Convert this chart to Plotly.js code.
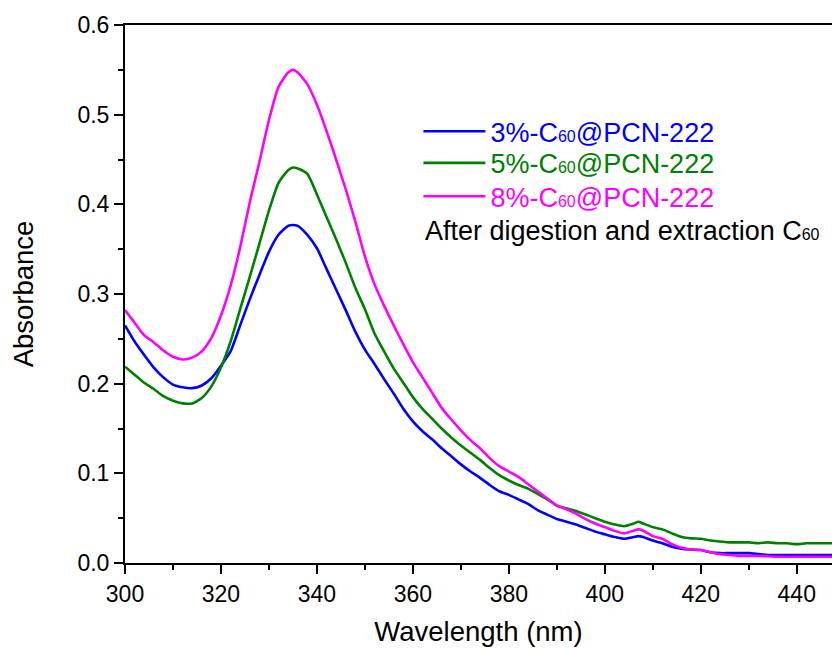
<!DOCTYPE html>
<html>
<head>
<meta charset="utf-8">
<script src="https://cdn.plot.ly/plotly-3.0.1.min.js"></script>
<style>html,body{margin:0;padding:0;background:#fff;}#chart{width:832px;height:648px;}</style>
</head>
<body>
<div id="chart"></div>
<script>
var wavelength = [300,302,304,306,308,310,312,314,316,318,320,322,324,326,328,330,332,334,335,336,
  338,340,342,344,346,348,350,352,354,356,358,360,362,364,366,368,370,372,374,376,378,380,382,384,386,388,390,392,394,396,398,400,402,404,406,
  407,408,
  410,412,414,416,418,420,422,424,426,428,430,432,434,436,438,440,442,444,446,448];

var abs3 = [0.265,0.247,0.232,0.218,0.207,0.199,0.196,0.195,0.198,0.206,0.220,0.236,0.265,0.294,0.321,0.347,0.366,0.376,0.377,0.376,
  0.366,0.351,0.328,0.305,0.282,0.258,0.238,0.222,0.205,0.189,0.172,0.158,0.147,0.138,0.128,0.119,0.110,0.102,0.095,0.087,0.080,0.076,0.071,0.066,0.059,0.054,0.049,0.046,0.043,0.039,0.035,0.032,0.029,0.027,0.029,
  0.030,0.029,
  0.025,0.022,0.018,0.016,0.015,0.0145,0.012,0.011,0.011,0.011,0.011,0.010,0.009,0.009,0.009,0.009,0.009,0.009,0.009,0.009];

var abs5 = [0.219,0.210,0.201,0.194,0.186,0.181,0.178,0.178,0.184,0.197,0.218,0.247,0.283,0.319,0.356,0.393,0.424,0.438,0.441,0.440,
  0.434,0.411,0.386,0.361,0.335,0.307,0.283,0.256,0.236,0.217,0.201,0.185,0.172,0.161,0.150,0.140,0.131,0.123,0.115,0.106,0.098,0.092,0.087,0.083,0.077,0.071,0.064,0.061,0.058,0.054,0.050,0.046,0.043,0.041,0.044,
  0.046,0.044,
  0.040,0.0375,0.033,0.029,0.0275,0.027,0.025,0.024,0.023,0.023,0.023,0.022,0.023,0.022,0.022,0.021,0.022,0.022,0.022,0.022];

var abs8 = [0.282,0.268,0.254,0.246,0.237,0.230,0.227,0.229,0.236,0.251,0.276,0.309,0.352,0.402,0.447,0.494,0.531,0.547,0.550,0.547,
  0.534,0.511,0.482,0.450,0.417,0.381,0.342,0.311,0.287,0.265,0.244,0.224,0.207,0.190,0.173,0.160,0.148,0.137,0.128,0.117,0.108,0.102,0.096,0.088,0.080,0.072,0.064,0.060,0.055,0.049,0.044,0.040,0.036,0.033,0.036,
  0.0375,0.036,
  0.030,0.027,0.021,0.017,0.015,0.0145,0.012,0.0097,0.009,0.008,0.008,0.0078,0.0075,0.007,0.007,0.007,0.007,0.007,0.007,0.007];

var seriesNames = ['3%-C<span style="font-size:16px">60</span>@PCN-222',
                   '5%-C<span style="font-size:16px">60</span>@PCN-222',
                   '8%-C<span style="font-size:16px">60</span>@PCN-222'];
var seriesColors = ['#0000ff','#008000','#ff00ff'];
var seriesValues = [abs3, abs5, abs8];
var noteText = 'After digestion and extraction C<span style="font-size:16px">60</span>';

var FONT = 'Liberation Sans, Arial, sans-serif';
var legendIds = ['legend','legend2','legend3'];
var legendY = [0.8017, 0.7429, 0.6809];

var traces = seriesValues.map(function(v, i){
  return {
    x: wavelength, y: v, type: 'scatter', mode: 'lines',
    line: {color: seriesColors[i], width: 2.6, shape: 'spline', smoothing: 0.6},
    legend: legendIds[i],
    name: '<span style="color:' + seriesColors[i] + '">' + seriesNames[i] + '</span>'
  };
});

var layout = {
  width: 832, height: 648,
  margin: {l: 125, r: 0, t: 25, b: 85, pad: 0},
  paper_bgcolor: '#fff', plot_bgcolor: '#fff',
  font: {family: FONT, color: '#000', size: 23},
  showlegend: true,
  xaxis: {
    range: [300, 447.35], showgrid: false, zeroline: false,
    showline: true, linecolor: '#000', linewidth: 2, mirror: true,
    ticks: 'outside', ticklen: 9, tickwidth: 2, tickcolor: '#000',
    dtick: 20, tick0: 300,
    minor: {dtick: 10, ticks: 'outside', ticklen: 5, tickwidth: 2, tickcolor: '#000', showgrid: false},
    tickfont: {size: 23},
    title: {text: 'Wavelength (nm)', font: {size: 27.5}, standoff: 16}
  },
  yaxis: {
    range: [0, 0.6], showgrid: false, zeroline: false,
    showline: true, linecolor: '#000', linewidth: 2, mirror: false,
    ticks: 'outside', ticklen: 9, tickwidth: 2, tickcolor: '#000',
    dtick: 0.1, tick0: 0, tickformat: '.1f',
    minor: {dtick: 0.05, ticks: 'outside', ticklen: 5, tickwidth: 2, tickcolor: '#000', showgrid: false},
    tickfont: {size: 23},
    title: {text: 'Absorbance', font: {size: 27.5}, standoff: 36}
  },
  annotations: [{
    xref: 'paper', yref: 'paper', x: (423-125)/707, y: (563-231)/538,
    xanchor: 'left', yanchor: 'middle', showarrow: false,
    text: noteText, font: {family: FONT, size: 27, color: '#000'}
  }]
};

legendIds.forEach(function(id, i){
  layout[id] = {
    x: 0.415, y: legendY[i], xanchor: 'left', yanchor: 'middle',
    bgcolor: 'rgba(0,0,0,0)', borderwidth: 0,
    font: {family: FONT, size: 27},
    itemwidth: 62
  };
});

Plotly.newPlot('chart', traces, layout, {staticPlot: true, displayModeBar: false});
</script>
</body>
</html>
